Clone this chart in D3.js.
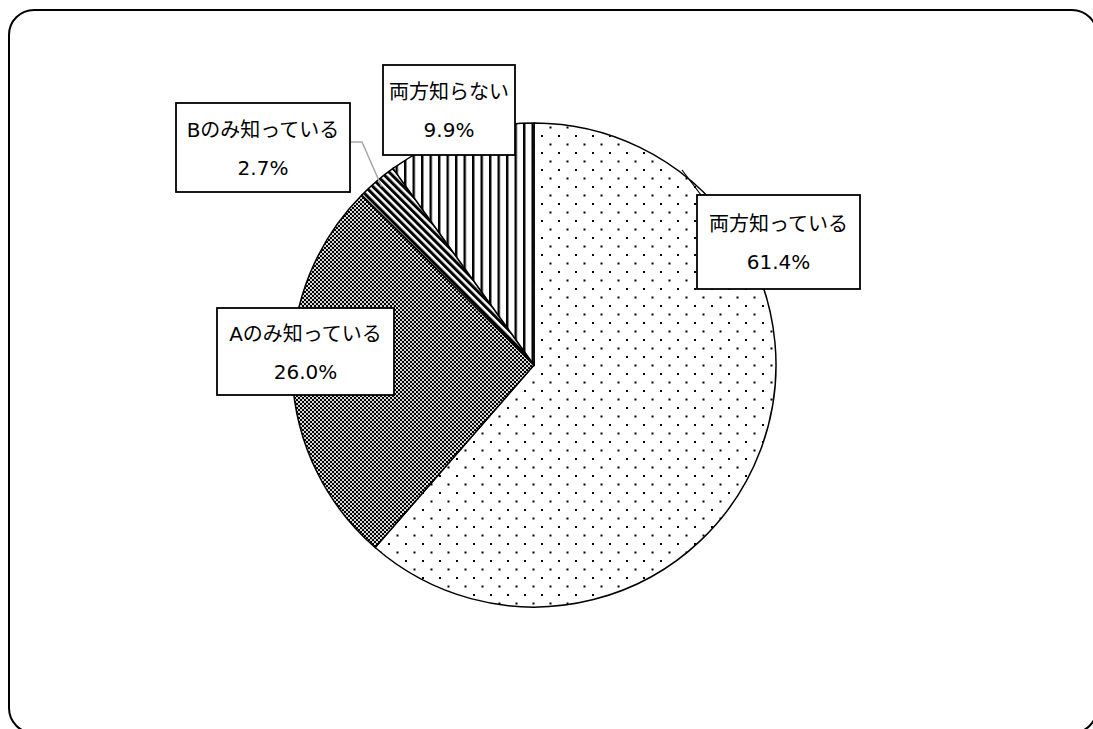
<!DOCTYPE html>
<html>
<head>
<meta charset="utf-8">
<script src="https://cdn.jsdelivr.net/npm/d3@7"></script>
<style>
  html, body { margin: 0; padding: 0; background: #fff; }
  svg { display: block; }
  text { font-family: "DejaVu Sans", "Noto Sans CJK JP", sans-serif; font-size: 20px; fill: #000; }
</style>
</head>
<body>
<svg id="chart" width="1093" height="729"></svg>
<script>
// Survey answers, clockwise from 12 o'clock
const categories = ["両方知っている", "Aのみ知っている", "Bのみ知っている", "両方知らない"];
const shares = [61.4, 26.0, 2.7, 9.9];
const shareLabels = ["61.4%", "26.0%", "2.7%", "9.9%"];
const patterns = ["dots", "checker", "diag", "vert"];

// Label box geometry (x, y, width, height) for each category
const labelBoxes = [
  [697, 195, 163, 94],
  [217, 308, 177, 87],
  [176, 103, 174, 89],
  [383, 65, 132, 90]
];

const svg = d3.select("#chart");
const cx = 534, cy = 365, radius = 242;

const defs = svg.append("defs");

// Sparse staggered dots
const pDots = defs.append("pattern").attr("id", "dots")
  .attr("patternUnits", "userSpaceOnUse").attr("width", 17).attr("height", 17)
  .attr("x", cx).attr("y", cy);
pDots.append("rect").attr("width", 17).attr("height", 17).attr("fill", "#fff");
pDots.append("rect").attr("x", 0).attr("y", 0).attr("width", 2).attr("height", 2).attr("fill", "#000");
pDots.append("rect").attr("x", 8.5).attr("y", 8.5).attr("width", 2).attr("height", 2).attr("fill", "#000");

// Fine checkerboard
const pChk = defs.append("pattern").attr("id", "checker")
  .attr("patternUnits", "userSpaceOnUse").attr("width", 4).attr("height", 4);
pChk.append("rect").attr("width", 4).attr("height", 4).attr("fill", "#d8d8d8");
pChk.append("rect").attr("x", 0).attr("y", 0).attr("width", 2).attr("height", 2).attr("fill", "#000");
pChk.append("rect").attr("x", 2).attr("y", 2).attr("width", 2).attr("height", 2).attr("fill", "#000");

// Wide diagonal stripes (top-left to bottom-right)
const pDiag = defs.append("pattern").attr("id", "diag")
  .attr("patternUnits", "userSpaceOnUse").attr("width", 5.4).attr("height", 10)
  .attr("patternTransform", "rotate(-45)");
pDiag.append("rect").attr("width", 5.4).attr("height", 10).attr("fill", "#fff");
pDiag.append("rect").attr("x", 0).attr("width", 3).attr("height", 10).attr("fill", "#000");

// Vertical stripes
const pVert = defs.append("pattern").attr("id", "vert")
  .attr("patternUnits", "userSpaceOnUse").attr("width", 8.5).attr("height", 10)
  .attr("x", cx - 1);
pVert.append("rect").attr("width", 8.5).attr("height", 10).attr("fill", "#fff");
pVert.append("rect").attr("x", 0).attr("width", 2.4).attr("height", 10).attr("fill", "#000");

// Rounded outer frame
svg.append("rect")
  .attr("x", 9).attr("y", 10).attr("width", 1088).attr("height", 723)
  .attr("rx", 25).attr("ry", 25)
  .attr("fill", "#fff").attr("stroke", "#000").attr("stroke-width", 2);

const pie = d3.pie().sort(null).value(d => d)(shares);
const arc = d3.arc().innerRadius(0).outerRadius(radius);

const g = svg.append("g").attr("transform", `translate(${cx},${cy})`);
g.selectAll("path.slice").data(pie).enter().append("path")
  .attr("class", "slice")
  .attr("d", arc)
  .attr("fill", (d, i) => `url(#${patterns[i]})`)
  .attr("stroke", "#000").attr("stroke-width", 1.5).attr("stroke-linejoin", "round");

// Leader lines from slice edge to label box
function edgePoint(i, k) {
  const a = (pie[i].startAngle + pie[i].endAngle) / 2;
  return [cx + Math.sin(a) * radius * k, cy - Math.cos(a) * radius * k];
}
const pB = edgePoint(2, 0.97);
svg.append("polyline")
  .attr("points", [[350, 142], [362, 142], pB].map(p => p.join(",")).join(" "))
  .attr("fill", "none").attr("stroke", "#a6a6a6").attr("stroke-width", 1.5);

svg.append("line")
  .attr("x1", 682).attr("y1", 170).attr("x2", 701).attr("y2", 195)
  .attr("stroke", "#000").attr("stroke-width", 1.2);

// Label boxes with category and share
categories.forEach((c, i) => {
  const [x, y, w, h] = labelBoxes[i];
  svg.append("rect").attr("x", x).attr("y", y).attr("width", w).attr("height", h)
    .attr("fill", "#fff").attr("stroke", "#000").attr("stroke-width", 1.8);
  const mx = x + w / 2, my = y + h / 2;
  svg.append("text").attr("x", mx).attr("y", my - 18).attr("text-anchor", "middle")
    .attr("dominant-baseline", "central").text(c);
  svg.append("text").attr("x", mx).attr("y", my + 20).attr("text-anchor", "middle")
    .attr("dominant-baseline", "central").text(shareLabels[i]);
});
</script>
</body>
</html>
